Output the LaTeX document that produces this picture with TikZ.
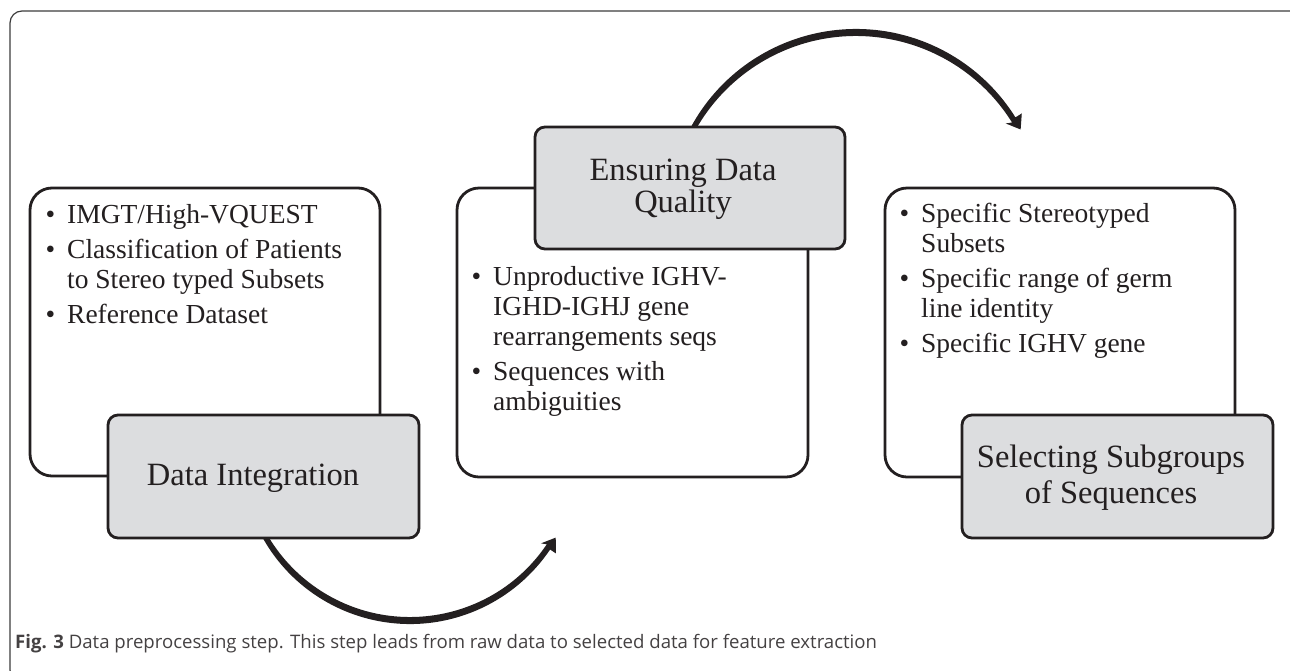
\documentclass[tikz,border=0pt]{standalone}
\usepackage{fontspec}
\setmainfont{Liberation Serif}
\newfontfamily\capfont{Open Sans}
\usetikzlibrary{calc}

\definecolor{ink}{RGB}{35,31,32}
\definecolor{boxgray}{RGB}{220,221,223}
\definecolor{framegray}{RGB}{60,60,60}

\newcommand{\bul}{\makebox[21.5pt][l]{\textbullet}}

\tikzset{
  textbox/.style={draw=ink, line width=2.8pt, rounded corners=22pt, fill=white,
                  inner sep=0pt, outer sep=0pt},
  titlebox/.style={draw=ink, line width=2.8pt, rounded corners=10pt, fill=boxgray,
                   inner sep=0pt, outer sep=0pt},
  bullets/.style={anchor=base west, inner sep=0pt, text=ink,
                  font=\fontsize{27.5}{30}\selectfont},
  titletext/.style={anchor=base, inner sep=0pt, text=ink},
  flowarrow/.style={fill=ink, draw=none},
}

\begin{document}
\begin{tikzpicture}[x=1pt, y=1pt]
\useasboundingbox (0,0) rectangle (1290,-670);
\clip (0,0) rectangle (1290,-670);

% figure frame
\draw[framegray, line width=1.2pt, rounded corners=12pt] (10,-11) rectangle (1302,-682);

% centres of the two curved arrows (outer and inner edges)
\coordinate (topc)  at (856,-217);
\coordinate (topc2) at (856,-220);
\coordinate (botc)  at (410,-455);
\coordinate (botc2) at (410,-452);

% upper arrow: from the quality step to the selection step
\fill[flowarrow] ($(topc)+(155:188pt)$) arc[start angle=155, end angle=32, radius=188pt]
  -- ($(topc)+(32:195.5pt)$)
  -- ($(topc)+(32:186pt)+(-58:13pt)$)
  -- ($(topc)+(32:176.5pt)$)
  -- ($(topc2)+(32:184pt)$) arc[start angle=32, end angle=155, radius=184pt]
  -- cycle;

% lower arrow: from the integration step to the quality step
\fill[flowarrow] ($(botc)+(205:169pt)$) arc[start angle=205, end angle=326, radius=169pt]
  -- ($(botc)+(326:176pt)$)
  -- ($(botc)+(326:167pt)+(56:13pt)$)
  -- ($(botc)+(326:158pt)$)
  -- ($(botc2)+(326:165pt)$) arc[start angle=326, end angle=205, radius=165pt]
  -- cycle;

% content boxes
\node[textbox, minimum width=350pt, minimum height=288pt] (leftbox)  at (205,-332) {};
\node[textbox, minimum width=351pt, minimum height=289pt] (midbox)   at (632.5,-332.5) {};
\node[textbox, minimum width=350pt, minimum height=289pt] (rightbox) at (1060,-332.5) {};

% step title boxes
\node[titlebox, minimum width=311pt, minimum height=123pt] (di)  at (263.5,-476.5) {};
\node[titlebox, minimum width=310pt, minimum height=122pt] (edq) at (690,-188) {};
\node[titlebox, minimum width=311pt, minimum height=123pt] (sss) at (1117.5,-476.5) {};

% step titles
\node[titletext, font=\fontsize{32.5}{32}\selectfont] (ditext) at (253,-485)
  {Data Integration};
\node[titletext, font=\fontsize{32.5}{32}\selectfont] (edqtext) at (683,-180)
  {\begin{tabular}[t]{@{}c@{}}Ensuring Data\\Quality\end{tabular}};
\node[titletext, font=\fontsize{32.5}{36}\selectfont] (ssstext) at (1111,-467)
  {\begin{tabular}[t]{@{}c@{}}Selecting Subgroups\\of Sequences\end{tabular}};

% bullet lists
\node[bullets] (leftlist) at (45.5,-223) {\begin{tabular}[t]{@{}l@{}l@{}}
  \bul & IMGT/High-VQUEST\\[5pt]
  \bul & Classification of Patients\\
       & to Stereo typed Subsets\\[5pt]
  \bul & Reference Dataset
\end{tabular}};

\node[bullets] (midlist) at (471.5,-285) {\begin{tabular}[t]{@{}l@{}l@{}}
  \bul & Unproductive IGHV-\\
       & IGHD-IGHJ gene\\
       & rearrangements seqs\\[5pt]
  \bul & Sequences with\\
       & ambiguities
\end{tabular}};

\node[bullets] (rightlist) at (899.5,-222) {\begin{tabular}[t]{@{}l@{}l@{}}
  \bul & Specific Stereotyped\\
       & Subsets\\[5pt]
  \bul & Specific range of germ\\
       & line identity\\[5pt]
  \bul & Specific IGHV gene
\end{tabular}};

% caption
\node[anchor=base west, inner sep=0pt, text=ink!85,
      font=\capfont\fontsize{18.6}{22}\selectfont] (caption) at (15,-648)
  {\textbf{Fig. 3} Data preprocessing step. This step leads from raw data to selected data for feature extraction};
\end{tikzpicture}
\end{document}
